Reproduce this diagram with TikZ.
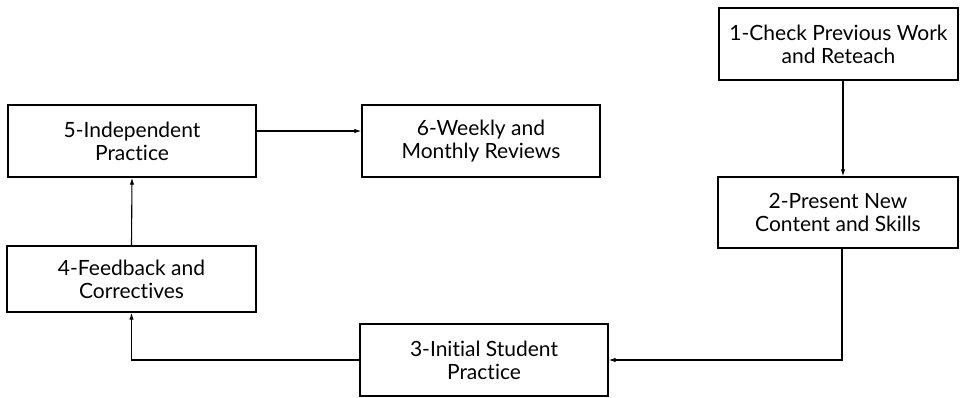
\documentclass[tikz,border=0pt]{standalone}
\usepackage{fontspec}
\setmainfont{Lato}[Ligatures={NoCommon,NoRare}]
\usetikzlibrary{arrows.meta}
\begin{document}
\begin{tikzpicture}[x=1pt,y=-1pt,
  stepbox/.style={draw,line width=1.4pt,align=center,inner sep=0pt,
    font=\fontsize{21}{23}\selectfont},
  flow/.style={line width=1.1pt,-{Latex[length=7pt,width=4.5pt]}}]
\useasboundingbox (0,0) rectangle (961,398);
\node[stepbox,minimum width=239,minimum height=72] (b1) at (838.5,44) {1-Check Previous Work\\and Reteach};
\node[stepbox,minimum width=240,minimum height=71] (b2) at (838,212.5) {2-Present New\\Content and Skills};
\node[stepbox,minimum width=248,minimum height=72] (b3) at (484,360) {3-Initial Student\\Practice};
\node[stepbox,minimum width=249,minimum height=66] (b4) at (131.5,279) {4-Feedback and\\Correctives};
\node[stepbox,minimum width=248,minimum height=72] (b5) at (132,141) {5-Independent\\Practice};
\node[stepbox,minimum width=238,minimum height=72] (b6) at (481,141) {6-Weekly and\\Monthly Reviews};
\draw[flow] (b1.south -| 843,0) -- (b2.north -| 843,0);
\draw[flow] (b2.south -| 842,0) |- (b3.east);
\draw[flow] (b3.west) -| (b4.south);
\draw[flow] (b4.north) -- (b5.south);
\draw[flow] (b5.east |- 0,131) -- (b6.west |- 0,131);
\end{tikzpicture}
\end{document}
